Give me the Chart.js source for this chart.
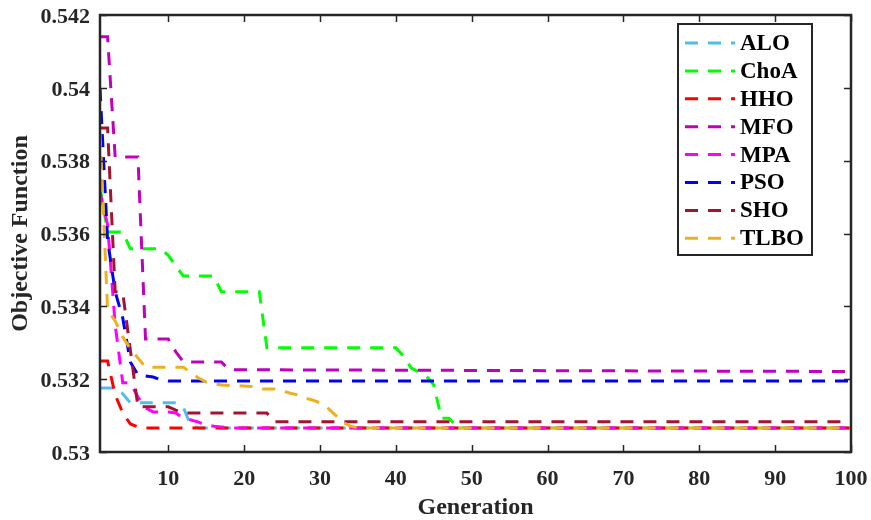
<!DOCTYPE html>
<html>
<head>
<meta charset="utf-8">
<script src="https://cdn.jsdelivr.net/npm/chart.js@4.4.1/dist/chart.umd.min.js"></script>
<style>
html,body{margin:0;padding:0;background:#fff;}
canvas{display:block;}
</style>
</head>
<body>
<canvas id="c" width="871" height="520"></canvas>
<script>
// ---- data ----
const seriesNames = ['ALO', 'ChoA', 'HHO', 'MFO', 'MPA', 'PSO', 'SHO', 'TLBO'];
const xTicks = [10, 20, 30, 40, 50, 60, 70, 80, 90, 100];
const yTicks = [0.53, 0.532, 0.534, 0.536, 0.538, 0.54, 0.542];
const yTickLabels = ['0.53', '0.532', '0.534', '0.536', '0.538', '0.54', '0.542'];

const aloGen = [1, 2, 3, 4, 5, 11, 12, 13, 14, 100];
const aloVal = [0.53176, 0.53176, 0.53176, 0.53160, 0.53135, 0.53135, 0.53122, 0.53071, 0.53066, 0.53066];

const choaGen = [1, 2, 3, 4, 5, 9, 10, 11, 12, 16, 17, 22, 23, 40, 41, 42, 43, 44, 45, 46, 47, 48, 49, 100];
const choaVal = [0.53728, 0.53604, 0.53604, 0.53604, 0.53558, 0.53558, 0.53540, 0.53510, 0.53483, 0.53483, 0.53440, 0.53440, 0.53286, 0.53286, 0.53264, 0.53231, 0.53220, 0.53209, 0.53184, 0.53093, 0.53093, 0.53071, 0.53066, 0.53066];

const hhoGen = [1, 2, 3, 4, 5, 6, 7, 100];
const hhoVal = [0.53250, 0.53250, 0.53157, 0.53107, 0.53077, 0.53069, 0.53066, 0.53066];

const mfoGen = [1, 2, 3, 6, 7, 10, 11, 12, 17, 18, 100];
const mfoVal = [0.54140, 0.54140, 0.53810, 0.53810, 0.53310, 0.53310, 0.53275, 0.53247, 0.53247, 0.53226, 0.53221];

const mpaGen = [1, 2, 3, 4, 5, 6, 7, 8, 10, 11, 12, 13, 14, 15, 16, 17, 18, 100];
const mpaVal = [0.53714, 0.53624, 0.53349, 0.53190, 0.53190, 0.53151, 0.53121, 0.53110, 0.53110, 0.53107, 0.53093, 0.53088, 0.53082, 0.53074, 0.53071, 0.53069, 0.53066, 0.53066];

const psoGen = [1, 2, 3, 4, 5, 6, 7, 8, 9, 10, 100];
const psoVal = [0.53999, 0.53582, 0.53440, 0.53368, 0.53247, 0.53212, 0.53209, 0.53206, 0.53198, 0.53195, 0.53195];

const shoGen = [1, 2, 3, 4, 5, 6, 10, 11, 12, 23, 24, 100];
const shoVal = [0.53890, 0.53890, 0.53440, 0.53437, 0.53280, 0.53124, 0.53124, 0.53115, 0.53107, 0.53107, 0.53083, 0.53083];

const tlboGen = [1, 2, 3, 4, 5, 6, 7, 12, 13, 14, 15, 16, 17, 21, 22, 24, 25, 26, 27, 28, 29, 30, 31, 32, 33, 34, 35, 100];
const tlboVal = [0.53876, 0.53390, 0.53360, 0.53316, 0.53283, 0.53258, 0.53233, 0.53233, 0.53217, 0.53203, 0.53192, 0.53187, 0.53184, 0.53180, 0.53173, 0.53173, 0.53168, 0.53162, 0.53157, 0.53148, 0.53143, 0.53135, 0.53121, 0.53102, 0.53082, 0.53071, 0.53066, 0.53066];

const seriesGens = [aloGen, choaGen, hhoGen, mfoGen, mpaGen, psoGen, shoGen, tlboGen];
const seriesVals = [aloVal, choaVal, hhoVal, mfoVal, mpaVal, psoVal, shoVal, tlboVal];

// ---- styling ----
const colors = ['#4DBEEE', '#00FF00', '#FF0000', '#BF00BF', '#FF00FF', '#0000FF', '#A2142F', '#EDB120'];
const DASH = [13, 10];
const AXIS = '#262626';
const FONT = '"Liberation Serif", "Times New Roman", serif';

const datasets = seriesNames.map((name, i) => ({
  label: name,
  data: seriesGens[i].map((g, k) => ({ x: g, y: seriesVals[i][k] })),
  borderColor: colors[i],
  backgroundColor: colors[i],
  borderWidth: 3,
  borderDash: DASH,
  pointRadius: 0,
  tension: 0,
  fill: false,
  order: seriesNames.length - i
}));

function noPad(s) {
  s.paddingTop = 0; s.paddingBottom = 0; s.paddingLeft = 0; s.paddingRight = 0;
}

const boxPlugin = {
  id: 'matlabBox',
  afterDatasetsDraw(chart) {
    const { ctx, chartArea: a, scales } = chart;
    const x = scales.x, y = scales.y;
    const TL = 7;
    ctx.save();
    ctx.setLineDash([]);
    ctx.strokeStyle = AXIS;
    ctx.lineWidth = 1.5;
    ctx.beginPath();
    xTicks.forEach(v => {
      const px = Math.round(x.getPixelForValue(v)) + 0.5;
      ctx.moveTo(px, a.bottom); ctx.lineTo(px, a.bottom - TL);
      ctx.moveTo(px, a.top); ctx.lineTo(px, a.top + TL);
    });
    yTicks.forEach(v => {
      const py = Math.round(y.getPixelForValue(v)) + 0.5;
      ctx.moveTo(a.left, py); ctx.lineTo(a.left + TL, py);
      ctx.moveTo(a.right, py); ctx.lineTo(a.right - TL, py);
    });
    ctx.stroke();
    ctx.lineWidth = 2.5;
    ctx.strokeRect(a.left, a.top, a.right - a.left, a.bottom - a.top);

    // legend box
    const lx0 = a.right - 173, lx1 = a.right - 39;
    const ly0 = a.top + 9, ly1 = a.top + 240;
    ctx.fillStyle = '#fff';
    ctx.fillRect(lx0, ly0, lx1 - lx0, ly1 - ly0);
    ctx.lineWidth = 2;
    ctx.strokeStyle = AXIS;
    ctx.strokeRect(lx0, ly0, lx1 - lx0, ly1 - ly0);
    ctx.font = 'bold 23px ' + FONT;
    ctx.textBaseline = 'middle';
    ctx.textAlign = 'left';
    seriesNames.forEach((name, i) => {
      const ry = ly0 + 19 + i * 27.9;
      ctx.strokeStyle = colors[i];
      ctx.lineWidth = 3;
      ctx.setLineDash(DASH);
      ctx.beginPath();
      ctx.moveTo(lx0 + 7, ry);
      ctx.lineTo(lx0 + 57, ry);
      ctx.stroke();
      ctx.setLineDash([]);
      ctx.fillStyle = '#000';
      ctx.fillText(name, lx0 + 62, ry + 1);
    });
    ctx.restore();
  }
};

new Chart(document.getElementById('c'), {
  type: 'line',
  data: { datasets },
  options: {
    responsive: false,
    animation: false,
    devicePixelRatio: 1,
    layout: { padding: { left: 0, top: 15, right: 20, bottom: 0 } },
    plugins: { legend: { display: false }, tooltip: { enabled: false } },
    scales: {
      x: {
        type: 'linear',
        min: 1,
        max: 100,
        afterBuildTicks: s => { s.ticks = xTicks.map(v => ({ value: v })); },
        afterFit: s => { s.height = 68; noPad(s); },
        grid: { display: false, drawTicks: false },
        border: { display: false },
        ticks: {
          color: AXIS,
          padding: 14,
          maxRotation: 0,
          autoSkip: false,
          font: { family: FONT, size: 22, weight: 'bold' },
          callback: v => String(v)
        },
        title: {
          display: true,
          text: 'Generation',
          color: AXIS,
          padding: { top: 0, bottom: -2 },
          font: { family: FONT, size: 24, weight: 'bold', lineHeight: 1.2 }
        }
      },
      y: {
        type: 'linear',
        min: 0.53,
        max: 0.542,
        afterBuildTicks: s => { s.ticks = yTicks.map(v => ({ value: v })); },
        afterFit: s => { s.width = 100; noPad(s); },
        grid: { display: false, drawTicks: false },
        border: { display: false },
        ticks: {
          color: AXIS,
          padding: 10,
          labelOffset: 2,
          autoSkip: false,
          font: { family: FONT, size: 22, weight: 'bold' },
          callback: (v, idx) => yTickLabels[idx]
        },
        title: {
          display: true,
          text: 'Objective Function',
          color: AXIS,
          padding: { top: 6, bottom: 0 },
          font: { family: FONT, size: 24, weight: 'bold', lineHeight: 1.2 }
        }
      }
    }
  },
  plugins: [boxPlugin]
});
</script>
</body>
</html>
